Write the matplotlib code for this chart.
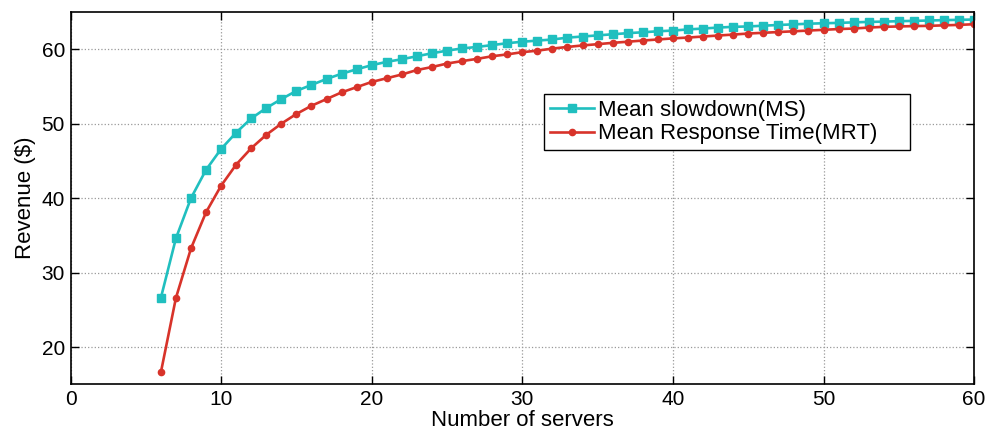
import numpy as np
from matplotlib import pyplot as plt

plt.rcParams['font.family'] = ['Liberation Sans', 'DejaVu Sans']

servers = list(range(6, 61))

# revenue when scheduling by mean slowdown
ms_revenue = [
    26.6, 34.6, 40.0, 43.8, 46.6, 48.8, 50.7, 52.1, 53.3, 54.4,
    55.2, 56.0, 56.7, 57.3, 57.85, 58.3, 58.65, 59.05, 59.45, 59.8,
    60.1, 60.3, 60.55, 60.8, 61.0, 61.15, 61.3, 61.55, 61.7, 61.85,
    62.0, 62.15, 62.27, 62.4, 62.5, 62.65, 62.77, 62.9, 63.0, 63.05,
    63.15, 63.25, 63.33, 63.42, 63.48, 63.53, 63.6, 63.66, 63.7, 63.76,
    63.8, 63.85, 63.9, 63.94, 63.98,
]

# revenue when scheduling by mean response time
mrt_revenue = [
    16.6, 26.6, 33.25, 38.1, 41.67, 44.5, 46.7, 48.5, 50.0, 51.3,
    52.4, 53.3, 54.2, 54.9, 55.6, 56.1, 56.6, 57.2, 57.6, 58.07,
    58.4, 58.7, 59.05, 59.3, 59.6, 59.8, 60.08, 60.3, 60.5, 60.67,
    60.85, 61.0, 61.16, 61.3, 61.45, 61.56, 61.7, 61.83, 61.96, 62.1,
    62.2, 62.3, 62.4, 62.5, 62.6, 62.7, 62.77, 62.9, 63.0, 63.05,
    63.1, 63.13, 63.2, 63.26, 63.35,
]

fig = plt.figure(figsize=(9.93, 4.34), dpi=100)
ax = fig.add_axes([0.071, 0.1145, 0.910, 0.858])

ax.plot(servers, ms_revenue, color='#20bfbf', lw=1.9, marker='s',
        markersize=5.5, label='Mean slowdown(MS)')
ax.plot(servers, mrt_revenue, color='#d8332a', lw=1.9, marker='o',
        markersize=4.5, label='Mean Response Time(MRT)')

ax.set_xlim(0, 60)
ax.set_ylim(15, 65)
ax.set_xticks(np.arange(0, 61, 10))
ax.set_yticks(np.arange(20, 61, 10))

ax.grid(True, linestyle=':', color='#999999', linewidth=0.9)
ax.tick_params(direction='in', top=True, right=True, length=6,
               labelsize=15, width=1, pad=4)
for spine in ax.spines.values():
    spine.set_linewidth(1.2)

ax.set_xlabel('Number of servers', fontsize=16, labelpad=1)
ax.set_ylabel('Revenue ($)', fontsize=16, labelpad=4)

leg = ax.legend(loc='upper left', bbox_to_anchor=(0.524, 0.0, 0.405, 0.779),
                mode='expand', borderaxespad=0, fancybox=False,
                edgecolor='black', framealpha=1, fontsize=16,
                handlelength=2.0, handletextpad=0.2, borderpad=0.25,
                labelspacing=0.12)
leg.get_frame().set_linewidth(1.0)

fig.savefig('out.png', dpi=100)
